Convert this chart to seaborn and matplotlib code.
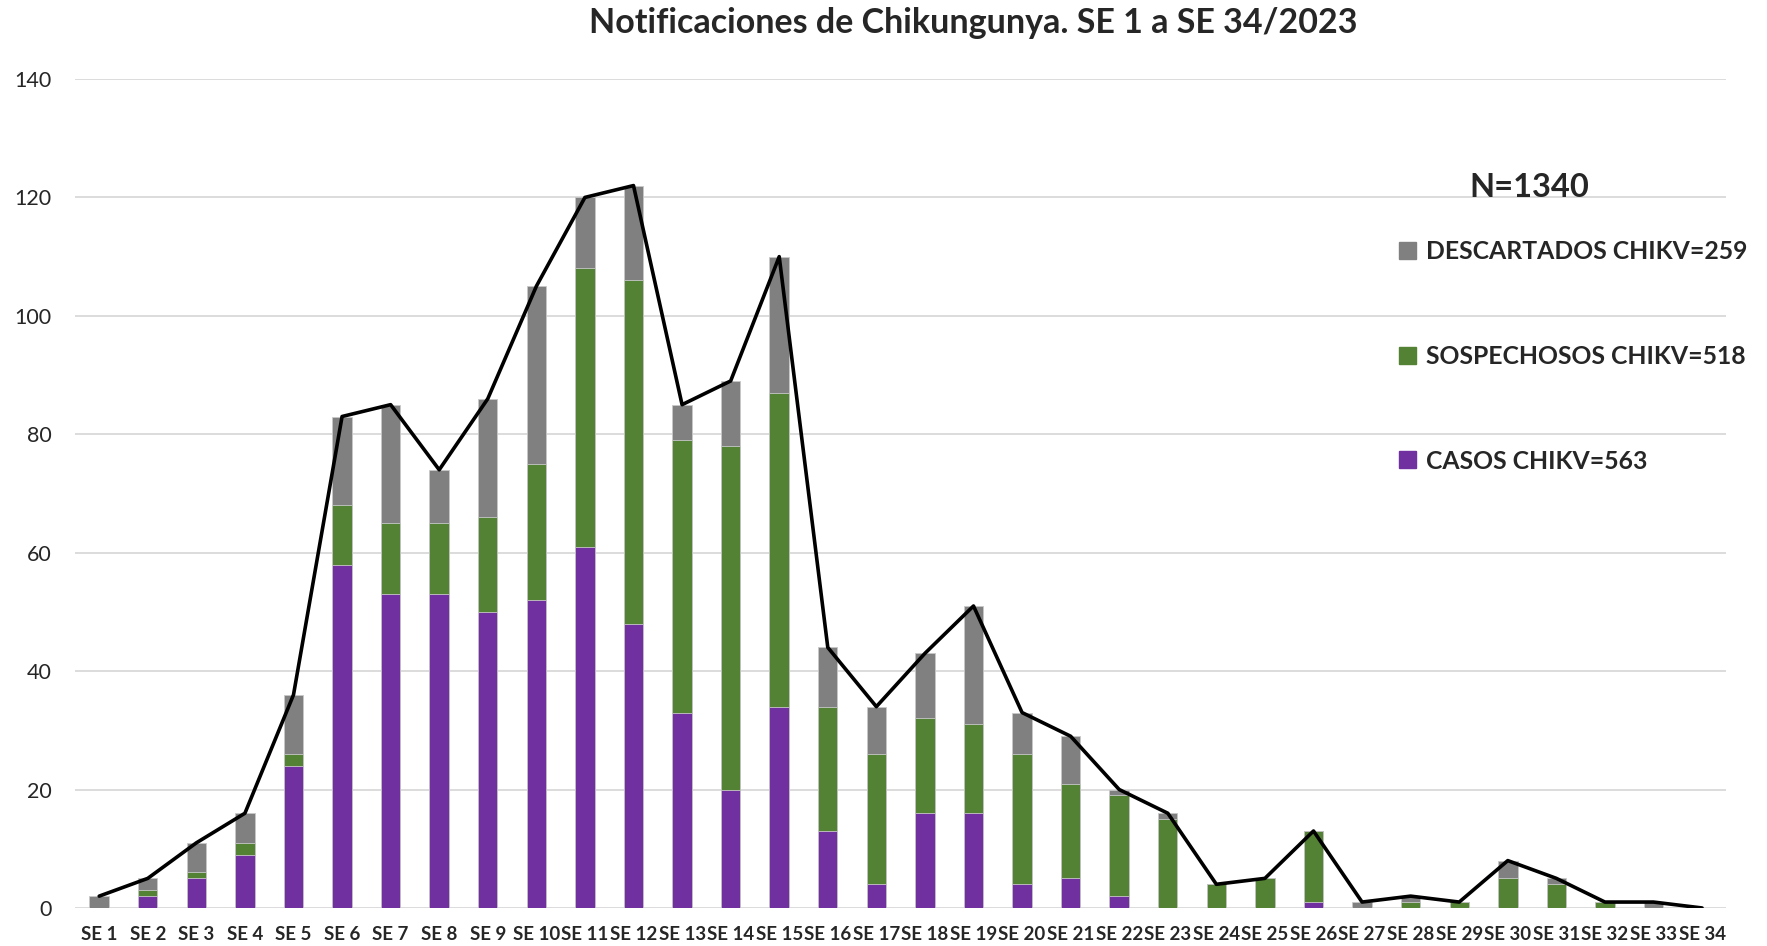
import matplotlib
matplotlib.use("Agg")
import matplotlib.pyplot as plt
import matplotlib.patches as mpatches
import numpy as np
import pandas as pd
import seaborn as sns

# ── Datos (SE 1 a SE 34/2023) ─────────────────────────────────────
semanas = [f"SE {i}" for i in range(1, 35)]
casos = [0, 2, 5, 9, 24, 58, 53, 53, 50, 52, 61, 48, 33, 20, 34, 13, 4,
         16, 16, 4, 5, 2, 0, 0, 0, 1, 0, 0, 0, 0, 0, 0, 0, 0]
sospechosos = [0, 1, 1, 2, 2, 10, 12, 12, 16, 23, 47, 58, 46, 58, 53, 21, 22,
               16, 15, 22, 16, 17, 15, 4, 5, 12, 0, 1, 1, 5, 4, 1, 0, 0]
descartados = [2, 2, 5, 5, 10, 15, 20, 9, 20, 30, 12, 16, 6, 11, 23, 10, 8,
               11, 20, 7, 8, 1, 1, 0, 0, 0, 1, 1, 0, 3, 1, 0, 1, 0]

COLORES = {"casos": "#7030A0", "sosp": "#548235", "desc": "#808080"}

df = pd.DataFrame({"semana": semanas, "casos": casos,
                   "sosp": sospechosos, "desc": descartados})
df["casos_sosp"] = df["casos"] + df["sosp"]
df["total"] = df["casos_sosp"] + df["desc"]

sns.set_style("white")
plt.rcParams["font.family"] = ["Lato", "DejaVu Sans"]

fig = plt.figure(figsize=(17.67, 9.46), dpi=100)
ax = fig.add_axes([0.0424, 0.0402, 0.9346, 0.8763])

# barras apiladas: se dibuja el total y encima los acumulados menores
for col, color in [("total", COLORES["desc"]),
                   ("casos_sosp", COLORES["sosp"]),
                   ("casos", COLORES["casos"])]:
    sns.barplot(data=df, x="semana", y=col, color=color, width=0.4,
                saturation=1, edgecolor="#c8c8c8", linewidth=0.6, ax=ax,
                zorder=2)

# línea de total
sns.lineplot(x=np.arange(len(df)), y=df["total"].values, color="black",
             linewidth=2.6, ax=ax, zorder=3)

ax.set_ylim(0, 140)
ax.set_xlim(-0.5, len(df) - 0.5)
ax.set_yticks(range(0, 141, 20))
ax.yaxis.grid(True, color="#d9d9d9", linewidth=1.3, zorder=0)
ax.set_axisbelow(True)
sns.despine(ax=ax, left=True, bottom=True)
ax.set_xlabel("")
ax.set_ylabel("")
ax.tick_params(axis="y", length=0, labelsize=15.5, pad=17, labelcolor="#262626")
ax.tick_params(axis="x", length=0, labelsize=13.5, pad=13)
for lbl in ax.get_xticklabels():
    lbl.set_fontweight("bold")

fig.text(0.551, 0.976, "Notificaciones de Chikungunya. SE 1 a SE 34/2023",
         ha="center", va="center", fontsize=24.5, fontweight="bold")

# leyenda
fig.text(0.8655, 0.802, "N=1340", ha="center", va="center",
         fontsize=23.5, fontweight="bold")
handles = [mpatches.Patch(color=COLORES["desc"], label="DESCARTADOS CHIKV=259"),
           mpatches.Patch(color=COLORES["sosp"], label="SOSPECHOSOS CHIKV=518"),
           mpatches.Patch(color=COLORES["casos"], label="CASOS CHIKV=563")]
leg = ax.legend(handles=handles, loc="upper left",
                bbox_to_anchor=(0.785, 0.759), bbox_transform=fig.transFigure,
                frameon=False, fontsize=17.8, labelspacing=3.3,
                handlelength=0.68, handleheight=0.68, handletextpad=0.4,
                borderpad=0)
for t in leg.get_texts():
    t.set_fontweight("bold")

fig.savefig("out.png", dpi=100)
